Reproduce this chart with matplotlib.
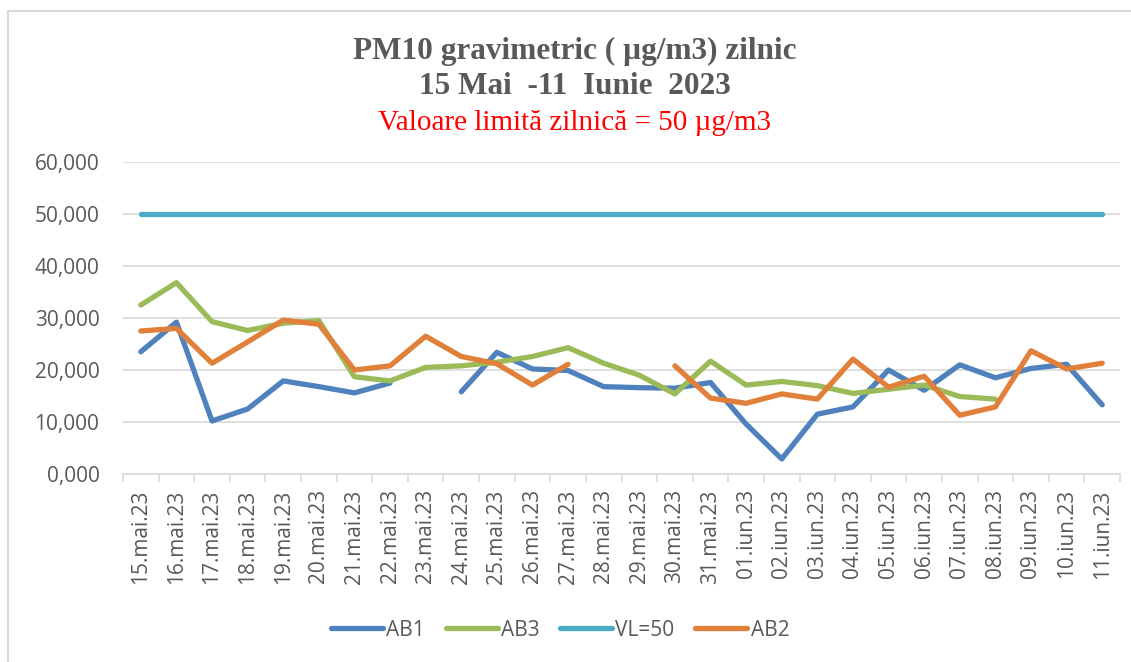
import numpy as np
import matplotlib.pyplot as plt
from matplotlib.lines import Line2D
from matplotlib.ticker import FuncFormatter, FixedLocator

nan = np.nan

# date labels, one per day
days = ['15.mai.23', '16.mai.23', '17.mai.23', '18.mai.23', '19.mai.23', '20.mai.23',
        '21.mai.23', '22.mai.23', '23.mai.23', '24.mai.23', '25.mai.23', '26.mai.23',
        '27.mai.23', '28.mai.23', '29.mai.23', '30.mai.23', '31.mai.23', '01.iun.23',
        '02.iun.23', '03.iun.23', '04.iun.23', '05.iun.23', '06.iun.23', '07.iun.23',
        '08.iun.23', '09.iun.23', '10.iun.23', '11.iun.23']

ab1 = [23.5, 29.2, 10.2, 12.5, 17.9, 16.8, 15.6, 17.5, nan, 15.8, 23.4, 20.2,
       19.9, 16.8, 16.6, 16.5, 17.6, 9.6, 2.9, 11.5, 12.9, 20.0, 16.1, 21.0,
       18.5, 20.3, 21.1, 13.3]
ab3 = [32.5, 36.8, 29.3, 27.6, 29.0, 29.5, 18.7, 17.9, 20.5, 20.8, 21.5, 22.6,
       24.3, 21.3, 19.0, 15.4, 21.7, 17.1, 17.8, 17.0, 15.5, 16.3, 17.1, 14.9,
       14.4, nan, nan, nan]
vl = [50.0] * len(days)
ab2 = [27.5, 28.0, 21.3, 25.4, 29.6, 28.8, 20.0, 20.8, 26.5, 22.6, 21.2, 17.1,
       21.1, nan, nan, 20.8, 14.6, 13.6, 15.4, 14.4, 22.1, 16.7, 18.8, 11.3,
       12.9, 23.7, 20.2, 21.3]

series = [('AB1', ab1, '#4f81bd'), ('AB3', ab3, '#9bbb59'),
          ('VL=50', vl, '#4bacc6'), ('AB2', ab2, '#e0803a')]

grey = '#595959'
plt.rcParams['font.family'] = ['Open Sans', 'DejaVu Sans']

fig = plt.figure(figsize=(11.31, 6.62), dpi=100)
ax = fig.add_axes([123 / 1131, 1 - 474 / 662, (1120 - 123) / 1131, (474 - 162) / 662])

x = np.arange(len(days))
for name, vals, col in series:
    ax.plot(x, vals, color=col, lw=3.8, solid_capstyle='round',
            solid_joinstyle='round', label=name, zorder=3)

ax.set_xlim(-0.5, len(days) - 0.5)
ax.set_ylim(0, 60)
ax.set_yticks(range(0, 61, 10))
ax.yaxis.set_major_formatter(FuncFormatter(lambda v, p: f'{v:.3f}'.replace('.', ',')))
ax.set_xticks(x)
ax.set_xticklabels(days, rotation=90)
ax.xaxis.set_minor_locator(FixedLocator(np.arange(-0.5, len(days), 1)))

ax.grid(axis='y', color='#d9d9d9', lw=1.2, zorder=0)
for s in ['top', 'right', 'left']:
    ax.spines[s].set_visible(False)
ax.spines['bottom'].set_color('#d9d9d9')
ax.spines['bottom'].set_linewidth(1.2)
ax.tick_params(axis='y', length=0, pad=17, labelsize=15, labelcolor=grey)
ax.tick_params(axis='x', which='major', length=0, pad=11, labelsize=15, labelcolor=grey)
ax.tick_params(axis='x', which='minor', length=6, width=1.2, color='#d9d9d9')

# titles
fig.text(575 / 1131, 1 - 51 / 662, 'PM10 gravimetric ( µg/m3) zilnic', ha='center', va='center',
         family='Liberation Serif', fontweight='bold', fontsize=22.5, color=grey)
fig.text(575 / 1131, 1 - 87 / 662, '15 Mai  -11  Iunie  2023', ha='center', va='center',
         family='Liberation Serif', fontweight='bold', fontsize=22.5, color=grey)
fig.text(575 / 1131, 1 - 123 / 662, 'Valoare limită zilnică = 50 µg/m3', ha='center', va='center',
         family='Liberation Serif', fontsize=21, color='red')

fig.legend(loc='center', bbox_to_anchor=(560 / 1131, 1 - 630 / 662), ncol=4, frameon=False,
           fontsize=15, labelcolor=grey, handlelength=2.5, handletextpad=0.15,
           columnspacing=1.0)

# chart border (left and top only visible)
fig.add_artist(Line2D([8 / 1131, 8 / 1131], [0, 1 - 11 / 662], transform=fig.transFigure,
                      color='#d9d9d9', lw=1.5))
fig.add_artist(Line2D([8 / 1131, 1], [1 - 11 / 662, 1 - 11 / 662], transform=fig.transFigure,
                      color='#d9d9d9', lw=1.5))

fig.savefig('out.png', dpi=100, facecolor='white')
